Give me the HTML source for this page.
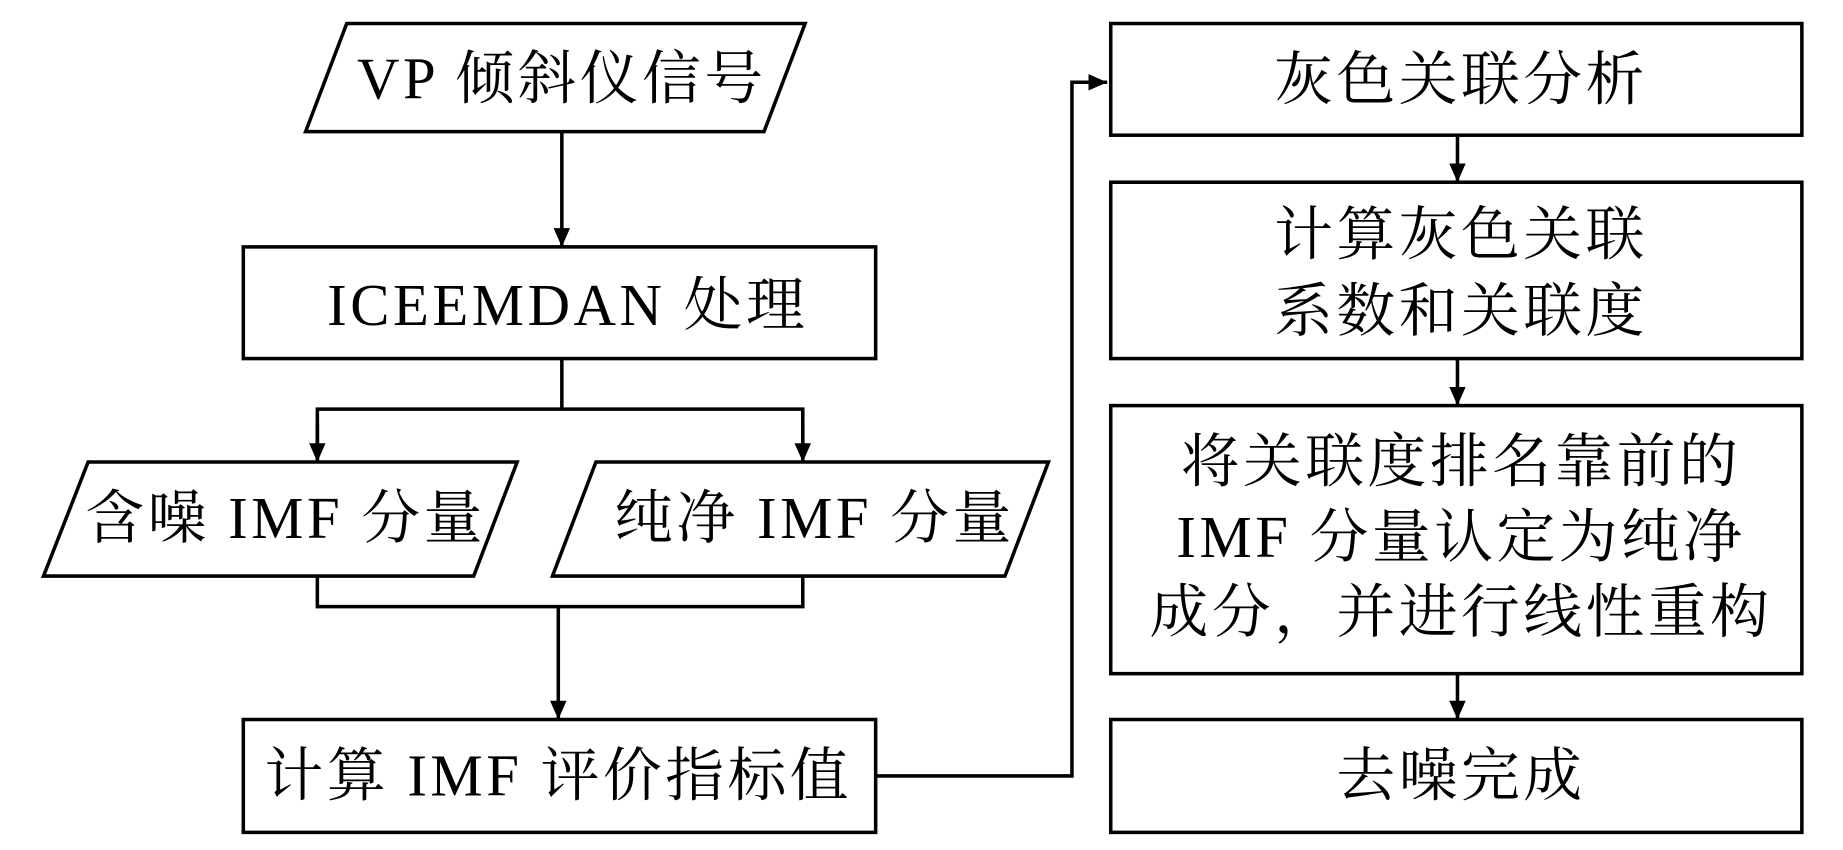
<!DOCTYPE html>
<html><head><meta charset="utf-8"><style>
html,body{margin:0;padding:0;background:#fff;}
svg{display:block;}
text{font-family:"Liberation Serif","Noto Serif CJK SC",serif;font-size:50px;letter-spacing:3px;fill:#000;text-anchor:middle;dominant-baseline:central;}
</style></head><body>
<svg width="1843" height="850" viewBox="0 0 1568 723" preserveAspectRatio="none" xmlns="http://www.w3.org/2000/svg">
<defs>
<marker id="b" markerWidth="16" markerHeight="14" refX="16" refY="7" orient="auto" markerUnits="userSpaceOnUse"><path d="M0,0 L16,7 L0,14 Z" fill="#000"/></marker></defs>
<g fill="none" stroke="#000" stroke-width="3">
<polygon points="295,20 685,20 650,112 260,112"/>
<rect x="207" y="210" width="538" height="95"/>
<polygon points="75,393 440,393 403,490 37,490"/>
<polygon points="507,393 892,393 855,490 470,490"/>
<rect x="207" y="612" width="538" height="96"/>
<rect x="945" y="20" width="588" height="95"/>
<rect x="945" y="155" width="588" height="150"/>
<rect x="945" y="345" width="588" height="228"/>
<rect x="945" y="612" width="588" height="96"/>
<line x1="478" y1="112" x2="478" y2="210" marker-end="url(#b)"/>
<polyline points="478,305 478,348"/>
<polyline points="270,393 270,348 683,348 683,393" />
<line x1="270" y1="360" x2="270" y2="393" marker-end="url(#b)"/>
<line x1="683" y1="360" x2="683" y2="393" marker-end="url(#b)"/>
<polyline points="270,490 270,516 683,516 683,490"/>
<line x1="475" y1="516" x2="475" y2="612" marker-end="url(#b)"/>
<polyline points="745,660 912,660 912,70 942,70" marker-end="url(#b)"/>
<line x1="1240" y1="115" x2="1240" y2="155" marker-end="url(#b)"/>
<line x1="1240" y1="305" x2="1240" y2="345" marker-end="url(#b)"/>
<line x1="1240" y1="573" x2="1240" y2="612" marker-end="url(#b)"/>
</g>
<text x="478" y="67">VP 倾斜仪信号</text>
<text x="483" y="260">ICEEMDAN 处理</text>
<text x="243" y="441">含噪 IMF 分量</text>
<text x="693" y="441">纯净 IMF 分量</text>
<text x="475" y="660">计算 IMF 评价指标值</text>
<text x="1243" y="68">灰色关联分析</text>
<text x="1243" y="200">计算灰色关联</text>
<text x="1243" y="265">系数和关联度</text>
<text x="1243" y="393">将关联度排名靠前的</text>
<text x="1243" y="457">IMF 分量认定为纯净</text>
<text x="1243" y="521">成分，并进行线性重构</text>
<text x="1243" y="660">去噪完成</text>
</svg>
</body></html>
